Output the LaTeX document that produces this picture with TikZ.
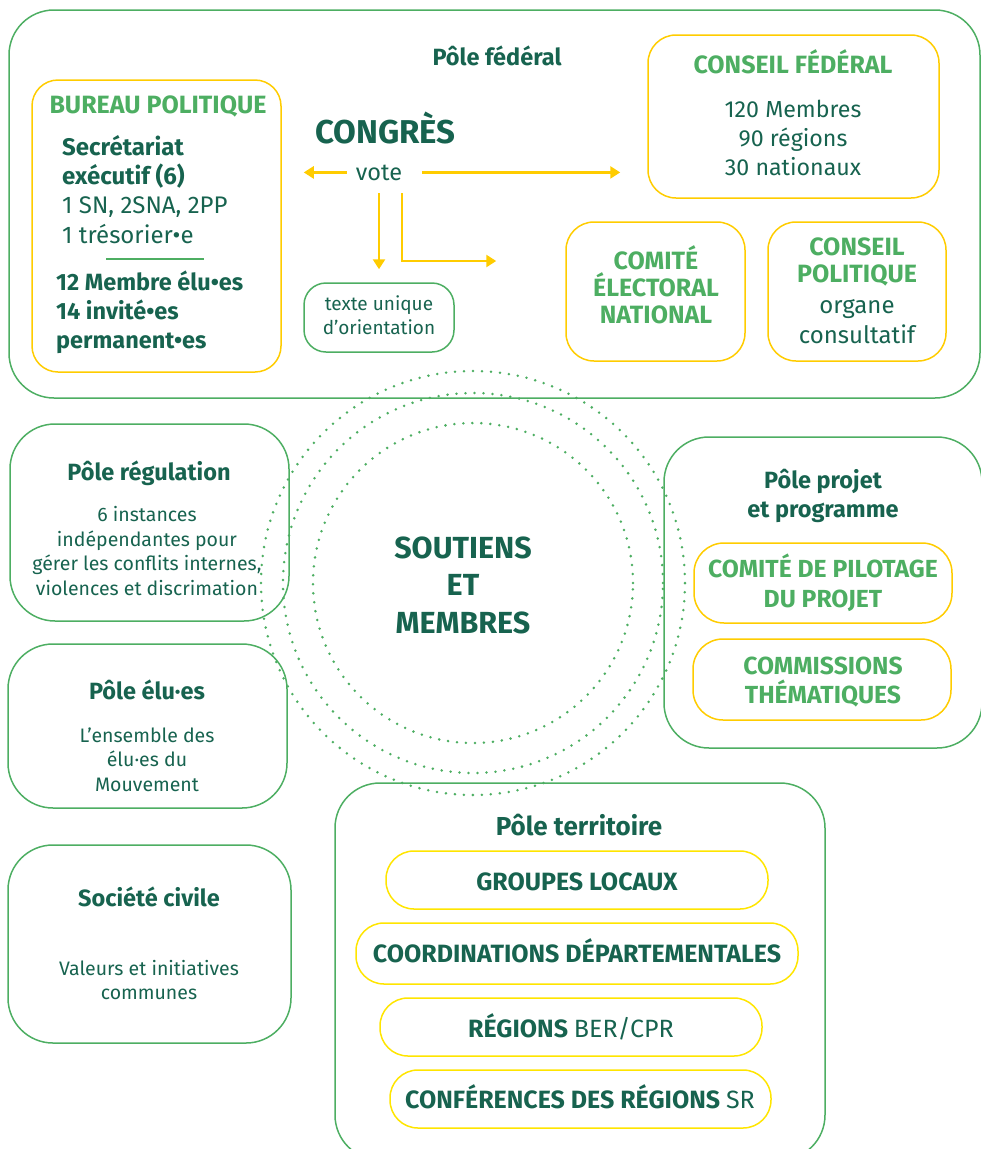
\documentclass[tikz,border=0pt]{standalone}
\usepackage{fontspec}
\setmainfont{Fira Sans}
\usetikzlibrary{positioning,calc,arrows.meta}
\definecolor{darkteal}{HTML}{17634F}
\definecolor{leafgreen}{HTML}{4DAE62}
\definecolor{golden}{HTML}{FFCC00}
\definecolor{lemon}{HTML}{FFE500}

\begin{document}
\begin{tikzpicture}[x=1pt, y=-1pt, >={Triangle[length=10pt,width=12pt]}]
    \tikzstyle{pole} = [draw=leafgreen, line width=1.5pt, rounded corners=45pt, inner sep=0pt]
    \tikzstyle{gold box} = [draw=golden, line width=1.5pt, rounded corners=26pt, inner sep=0pt]
    \tikzstyle{lemon box} = [draw=lemon, line width=1.5pt, rounded corners=28pt, inner sep=0pt]
    \tikzstyle{ring} = [circle, draw=leafgreen, line width=2.8pt, dash pattern=on 0pt off 9pt, line cap=round, inner sep=0pt]
    \tikzstyle{title} = [text=darkteal, font=\bfseries\fontsize{23.5}{29}\selectfont, align=center, anchor=base, inner sep=0pt]
    \tikzstyle{green title} = [text=leafgreen, font=\bfseries\fontsize{25}{27}\selectfont, align=center, anchor=base, inner sep=0pt]
    \tikzstyle{body} = [text=darkteal, font=\fontsize{19.5}{24.5}\selectfont, align=center, anchor=base, inner sep=0pt]
    \tikzstyle{vote arrow} = [->, draw=golden, line width=2.5pt]
    \useasboundingbox (0,0) rectangle (981,1149);
    \clip (0,0) rectangle (981,1149);

    % pole federal
    \node[pole, minimum width=971pt, minimum height=388pt] (federal) at (494.5,204) {};
    \node[title] (federal title) at (497,65) {Pôle fédéral};
    \node[gold box, minimum width=249pt, minimum height=292pt] (bureau) at (156.5,226) {};
    \node[green title] (bureau title) at (158,113) {BUREAU POLITIQUE};
    \node[title, font=\bfseries\fontsize{24}{29}\selectfont, align=left, anchor=base west] (secretariat) at (62,184) {Secrétariat\\exécutif (6)};
    \node[body, font=\fontsize{24}{30}\selectfont, align=left, anchor=base west] (sn) at (62,243) {1 SN, 2SNA, 2PP\\1 trésorier•e};
    \draw[leafgreen, line width=1.5pt] (106,259) -- (204,259);
    \node[title, align=left, anchor=base west] (membres) at (56,348) {12 Membre élu•es\\14 invité•es\\permanent•es};
    \node[title, font=\bfseries\fontsize{33}{33}\selectfont, anchor=base west] (congres) at (315,143) {CONGRÈS};
    \node[body, font=\fontsize{23.5}{24}\selectfont] (vote) at (379,180) {vote};
    \node[pole, rounded corners=22pt, minimum width=150pt, minimum height=69pt] (texte) at (379,317.5) {};
    \node[body, font=\fontsize{19}{24}\selectfont] (texte text) at (379,334) {texte unique\\d’orientation};
    \node[gold box, rounded corners=28pt, minimum width=291pt, minimum height=163pt] (conseil) at (793.5,116.5) {};
    \node[green title] (conseil title) at (793,73) {CONSEIL FÉDÉRAL};
    \node[body, font=\fontsize{23.2}{29}\selectfont] (conseil text) at (793,175) {120 Membres\\90 régions\\30 nationaux};
    \node[gold box, rounded corners=28pt, minimum width=179pt, minimum height=139pt] (comite) at (655.5,291.5) {};
    \node[green title] (comite text) at (656,323) {COMITÉ\\ÉLECTORAL\\NATIONAL};
    \node[gold box, rounded corners=28pt, minimum width=178pt, minimum height=139pt] (politique) at (857,291.5) {};
    \node[green title] (politique title) at (857,282) {CONSEIL\\POLITIQUE};
    \node[body, font=\fontsize{24}{30}\selectfont] (politique text) at (857,343) {organe\\consultatif};

    \draw[vote arrow, shorten <=9pt, shorten >=22pt] (vote.west) -- (vote.west -| bureau.east);
    \draw[vote arrow, shorten <=20pt, shorten >=27pt] (vote.east) -- (vote.east -| conseil.west);
    \draw[vote arrow, shorten <=13pt, shorten >=13pt] (vote.south) -- (texte.north);
    \draw[vote arrow, shorten <=13pt, shorten >=69pt] ([xshift=23pt]vote.south) |- ([yshift=30.5pt]comite.west);

    % soutiens et membres
    \node[ring, minimum size=424pt] (outer ring) at (473,583) {};
    \node[ring, minimum size=380pt] (middle ring) at (473,583) {};
    \node[ring, minimum size=320pt] (core) at (473,583) {};
    \node[title, font=\bfseries\fontsize{30.5}{37.5}\selectfont] (core text) at (463,633) {SOUTIENS\\ET\\MEMBRES};

    % poles
    \node[pole, minimum width=279pt, minimum height=197pt] (regulation) at (149.5,522.5) {};
    \node[title] (regulation title) at (149,480) {Pôle régulation};
    \node[body] (regulation text) at (147,595) {6 instances\\indépendantes pour\\gérer les conflits internes,\\violences et discrimation};
    \node[pole, minimum width=279pt, minimum height=164pt] (elus) at (147.5,726) {};
    \node[title] (elus title) at (147,699) {Pôle élu·es};
    \node[body] (elus text) at (147,791) {L’ensemble des\\élu·es du\\Mouvement};
    \node[pole, minimum width=283pt, minimum height=198pt] (societe) at (149.5,944) {};
    \node[title] (societe title) at (149,906) {Société civile};
    \node[body, font=\fontsize{19.5}{24}\selectfont] (societe text) at (149,999) {Valeurs et initiatives\\communes};

    \node[pole, minimum width=318pt, minimum height=311pt] (projet) at (823,592.5) {};
    \node[title] (projet title) at (823,517) {Pôle projet\\et programme};
    \node[gold box, rounded corners=30pt, minimum width=258pt, minimum height=80pt] (pilotage) at (823,583) {};
    \node[green title, font=\bfseries\fontsize{24.7}{30}\selectfont] (pilotage text) at (823,607) {COMITÉ DE PILOTAGE\\DU PROJET};
    \node[gold box, rounded corners=30pt, minimum width=258pt, minimum height=81pt] (commissions) at (822,679.5) {};
    \node[green title, font=\bfseries\fontsize{24.7}{29}\selectfont] (commissions text) at (823,703) {COMMISSIONS\\THÉMATIQUES};

    \node[pole, minimum width=490pt, minimum height=377pt] (territoire) at (580,971.5) {};
    \node[title, font=\bfseries\fontsize{26}{29}\selectfont] (territoire title) at (579,835) {Pôle territoire};
    \node[lemon box, minimum width=382pt, minimum height=58pt] (groupes) at (577,880) {};
    \node[title, font=\bfseries\fontsize{25}{29}\selectfont] (groupes text) at (577,890) {GROUPES LOCAUX};
    \node[lemon box, minimum width=442pt, minimum height=61pt] (coordinations) at (577,953.5) {};
    \node[title, font=\bfseries\fontsize{25}{29}\selectfont] (coordinations text) at (577,962) {COORDINATIONS DÉPARTEMENTALES};
    \node[lemon box, minimum width=382pt, minimum height=58pt] (regions) at (571,1027) {};
    \node[title, font=\bfseries\fontsize{25}{29}\selectfont] (regions text) at (571,1037) {RÉGIONS \mdseries BER/CPR};
    \node[lemon box, minimum width=381pt, minimum height=58pt] (conferences) at (580.5,1099) {};
    \node[title, font=\bfseries\fontsize{25}{29}\selectfont] (conferences text) at (580,1108) {CONFÉRENCES DES RÉGIONS \mdseries SR};
\end{tikzpicture}
\end{document}
